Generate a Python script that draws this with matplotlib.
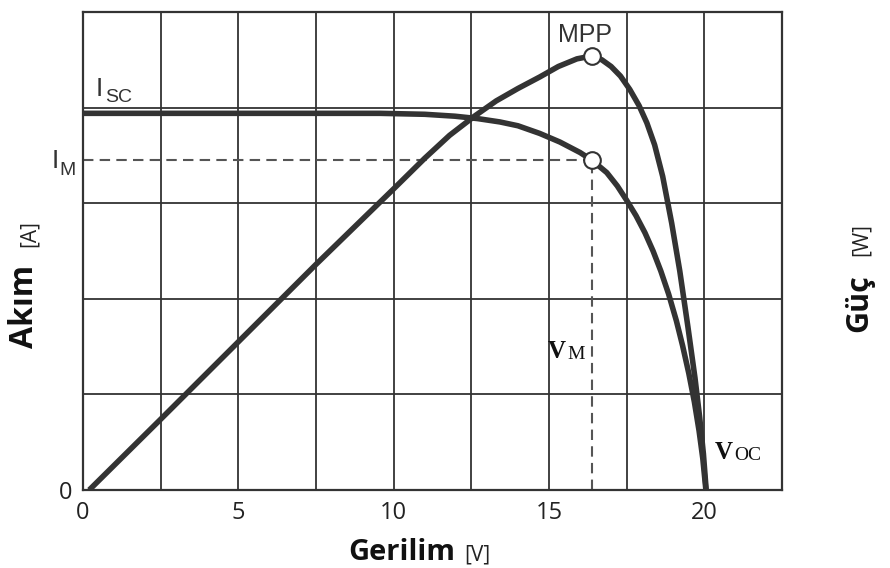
import matplotlib
matplotlib.use("Agg")
import matplotlib.pyplot as plt

# I-V curve (volts, grid units)
volt_i = [0, 2.5, 5, 7.5, 9.56, 11.0, 11.97, 12.7, 13.42, 14.0, 14.7, 15.35,
          16.0, 16.38, 16.86, 17.2, 17.5, 17.8, 18.09, 18.35, 18.6, 18.85,
          19.1, 19.3, 19.5, 19.68, 19.83, 19.95, 20.05]
current = [3.94, 3.94, 3.94, 3.94, 3.94, 3.93, 3.91, 3.885, 3.85, 3.81, 3.73, 3.64,
           3.53, 3.45, 3.32, 3.18, 3.03, 2.87, 2.69, 2.50, 2.29, 2.05,
           1.77, 1.51, 1.22, 0.92, 0.62, 0.33, 0]

# P-V curve (same grid units)
volt_p = [0.2, 2.5, 5, 7.5, 10, 11, 11.8, 12.6, 13.3, 14.0, 14.7, 15.3, 15.9,
          16.38, 16.7, 17.0, 17.3, 17.6, 17.9, 18.15, 18.4, 18.66, 18.95,
          19.21, 19.47, 19.7, 19.85, 19.97, 20.06]
power = [0, 0.74, 1.55, 2.36, 3.15, 3.47, 3.71, 3.91, 4.07, 4.20, 4.32, 4.43, 4.51,
         4.54, 4.50, 4.43, 4.33, 4.19, 4.02, 3.84, 3.61, 3.28, 2.79,
         2.29, 1.71, 1.17, 0.76, 0.38, 0]

v_mpp = 16.38
i_mpp = 3.45
p_mpp = 4.54

xticks = [0, 5, 10, 15, 20]
W, H = 890, 568
ink = "#333333"


def px(x, y):
    return x / W, 1 - y / H


fig = plt.figure(figsize=(W / 100, H / 100), dpi=100)
ax = fig.add_axes([83 / W, (H - 490) / H, (782 - 83) / W, (490 - 12) / H])
ax.set_xlim(0, 22.5)
ax.set_ylim(0, 5)

# grid
for k in range(1, 9):
    ax.axvline(k * 2.5, color=ink, lw=1.3, zorder=1)
for k in range(1, 5):
    ax.axhline(k, color=ink, lw=1.3, zorder=1)
for s in ax.spines.values():
    s.set_color(ink)
    s.set_linewidth(1.6)

# dashed guides to the MPP
ax.plot([0, v_mpp], [i_mpp, i_mpp], color="#555555", lw=1.5, ls=(0, (5, 3)), zorder=2)
ax.plot([v_mpp, v_mpp], [0, i_mpp], color="#555555", lw=1.5, ls=(0, (5, 3)), zorder=2)

ax.plot(volt_i, current, color=ink, lw=4, solid_capstyle="butt",
        solid_joinstyle="round", zorder=3)
ax.plot(volt_p, power, color=ink, lw=4, solid_capstyle="butt",
        solid_joinstyle="round", zorder=3)
ax.plot([v_mpp, v_mpp], [i_mpp, p_mpp], ls="none", marker="o", ms=12,
        mfc="white", mec=ink, mew=1.5, zorder=4)

ax.set_xticks(xticks)
ax.set_xticklabels([str(t) for t in xticks], family="Open Sans", fontsize=17, color="#222222")
ax.set_yticks([0])
ax.set_yticklabels(["0"], family="Open Sans", fontsize=17, color="#222222")
ax.tick_params(length=0)
ax.tick_params(axis="x", pad=8)
ax.tick_params(axis="y", pad=8)

sans = "Liberation Sans"
serif = "Liberation Serif"
# annotations
fig.text(*px(96, 96), "I", family=sans, fontsize=19, color=ink, va="baseline")
fig.text(*px(105, 102), "SC", family=sans, fontsize=14, color=ink, va="baseline")
fig.text(*px(52, 168), "I", family=sans, fontsize=19, color=ink, va="baseline")
fig.text(*px(59, 175), "M", family=sans, fontsize=14, color=ink, va="baseline")
fig.text(*px(558, 42), "MPP", family=sans, fontsize=18, color=ink, va="baseline")
fig.text(*px(548, 358), "V", family=serif, weight="bold", fontsize=18, color="#111111", va="baseline")
fig.text(*px(567, 359), "M", family=serif, fontsize=14, color="#111111", va="baseline")
fig.text(*px(715, 459), "V", family=serif, weight="bold", fontsize=18, color="#111111", va="baseline")
fig.text(*px(734, 460), "OC", family=serif, fontsize=14, color="#111111", va="baseline")

# axis titles
fig.text(*px(348, 560), "Gerilim", family="Open Sans", weight="bold", fontsize=21,
         color="#111111", va="baseline")
fig.text(*px(464, 560), "[V]", family="Open Sans", fontsize=15, color="#222222", va="baseline")
fig.text(*px(33, 348), "Akım", family="Open Sans", weight="bold", fontsize=23, color="#111111",
         rotation=90, rotation_mode="anchor", ha="left", va="baseline")
fig.text(*px(35, 247), "[A]", family="Open Sans", fontsize=15, color="#222222",
         rotation=90, rotation_mode="anchor", ha="left", va="baseline")
fig.text(*px(867, 332), "Güç", family="Open Sans", weight="bold", fontsize=22, color="#111111",
         rotation=90, rotation_mode="anchor", ha="left", va="baseline")
fig.text(*px(867, 256), "[W]", family="Open Sans", fontsize=15, color="#222222",
         rotation=90, rotation_mode="anchor", ha="left", va="baseline")

fig.savefig("out.png", dpi=100)
